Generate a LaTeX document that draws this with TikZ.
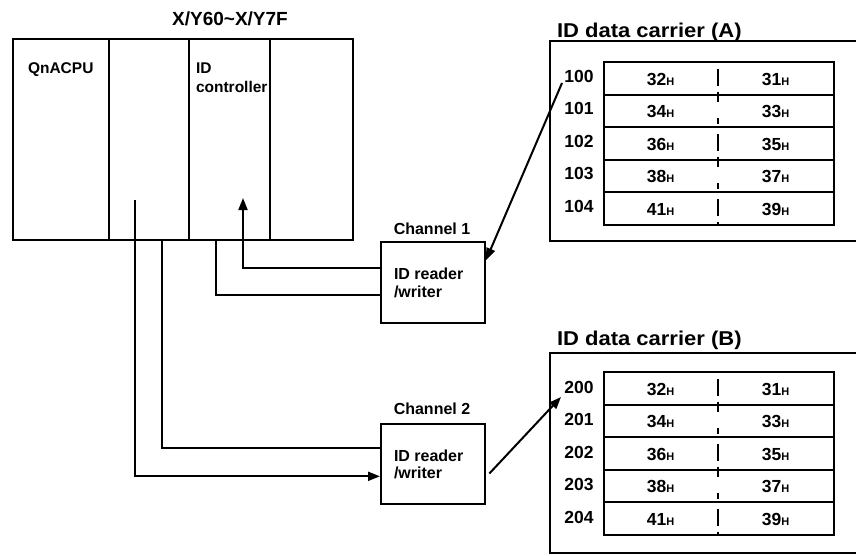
\documentclass[tikz,border=0pt]{standalone}
\usepackage{fontspec}
\setmainfont{Liberation Sans}
\usetikzlibrary{arrows.meta,calc}
\newcommand\hx[1]{#1{\fontsize{11}{11}\selectfont H}}
\begin{document}
\begin{tikzpicture}[x=1pt,y=-1pt,line width=2pt,
  boxnode/.style={draw,line width=2pt,inner sep=0pt,anchor=north west},
  lbl/.style={inner sep=0pt,font=\bfseries\fontsize{16}{19}\selectfont},
  numlbl/.style={inner sep=0pt,font=\bfseries\fontsize{17.5}{19}\selectfont},
  ttl/.style={inner sep=0pt,font=\bfseries\fontsize{20}{24}\selectfont,anchor=base west},
  conn/.style={line width=2pt},
  arr/.style={conn,-{Triangle[length=12pt,width=9pt]}},
  divdash/.style={line width=2pt,dash pattern=on 2pt off 6pt on 16.5pt off 6pt on 2pt}]
\useasboundingbox (0,0) rectangle (856,555);
% PLC
\node[boxnode,minimum width=340pt,minimum height=201pt] (plc) at (12,38) {};
\draw (109,38) -- (109,239);
\draw (189,38) -- (189,239);
\draw (270,38) -- (270,239);
\node[inner sep=0pt,anchor=base,font=\bfseries\fontsize{19}{22}\selectfont] (xy) at (230,25) {X/Y60\textasciitilde X/Y7F};
\node[lbl,anchor=base west,font=\bfseries\fontsize{15.5}{19}\selectfont] (cpu) at (27,73) {QnACPU};
\node[lbl,anchor=base west,font=\bfseries\fontsize{15.5}{19}\selectfont] (idc1) at (195,73) {ID};
\node[lbl,anchor=base west,font=\bfseries\fontsize{15.5}{19}\selectfont] (idc2) at (195,92) {controller};
% readers
\node[boxnode,minimum width=104pt,minimum height=81pt] (rw1) at (380,241) {};
\node[boxnode,minimum width=104pt,minimum height=80pt] (rw2) at (380,423) {};
\node[lbl,anchor=base] (ch1) at (432,234) {Channel 1};
\node[lbl,anchor=base] (ch2) at (432,414) {Channel 2};
\node[lbl,anchor=base west] (t1a) at (393,279) {ID reader};
\node[lbl,anchor=base west] (t1b) at (393,297) {/writer};
\node[lbl,anchor=base west] (t2a) at (393,461) {ID reader};
\node[lbl,anchor=base west] (t2b) at (393,478) {/writer};
% connectors
\coordinate (c1) at (243,198);
\coordinate (c2) at (216,239);
\coordinate (c3) at (162,239);
\coordinate (c4) at (135,200);
\draw[arr] ($(rw1.north west)!0.32!(rw1.south west)$) -| (c1);
\draw[conn] (c2) |- ($(rw1.north west)!0.654!(rw1.south west)$);
\draw[conn] (c3) |- ($(rw2.north west)!0.31!(rw2.south west)$);
\draw[arr] (c4) |- ($(rw2.north west)!0.65!(rw2.south west)$);
% carrier A
\draw (856,41) -- (550,41) -- (550,241) -- (856,241);
\node[ttl] (tA) at (556,37) {\scalebox{1.1}[1]{ID data carrier (A)}};
\foreach \i/\a/\l/\r in {0/100/32/31,1/101/34/33,2/102/36/35,3/103/38/37,4/104/41/39}{
  \node[boxnode,minimum width=230pt,minimum height=32.5pt] (A\i) at (603,{61+32.5*\i}) {};
  \node[numlbl] (Aa\i) at (579,{76+32.5*\i}) {\a};
  \node[numlbl] (Al\i) at (660.5,{79+32.5*\i}) {\hx{\l}};
  \node[numlbl] (Ar\i) at (775.5,{79+32.5*\i}) {\hx{\r}};
}
\draw[divdash] (718,61) -- (718,223.5);
% carrier B
\draw (856,353) -- (550,353) -- (550,553) -- (856,553);
\node[ttl] (tB) at (556,345) {\scalebox{1.1}[1]{ID data carrier (B)}};
\foreach \i/\a/\l/\r in {0/200/32/31,1/201/34/33,2/202/36/35,3/203/38/37,4/204/41/39}{
  \node[boxnode,minimum width=230pt,minimum height=32.5pt] (B\i) at (603,{371+32.5*\i}) {};
  \node[numlbl] (Ba\i) at (579,{387+32.5*\i}) {\a};
  \node[numlbl] (Bl\i) at (660.5,{389+32.5*\i}) {\hx{\l}};
  \node[numlbl] (Br\i) at (775.5,{389+32.5*\i}) {\hx{\r}};
}
\draw[divdash] (718,371) -- (718,533.5);
% carrier arrows
\coordinate (ca) at (562,83);
\coordinate (cb) at (561,397);
\draw[arr] (ca) -- ($(rw1.north east)!0.23!(rw1.south east)$);
\draw[arr,shorten <=5pt] ($(rw2.north east)!0.66!(rw2.south east)$) -- (cb);
\end{tikzpicture}
\end{document}
